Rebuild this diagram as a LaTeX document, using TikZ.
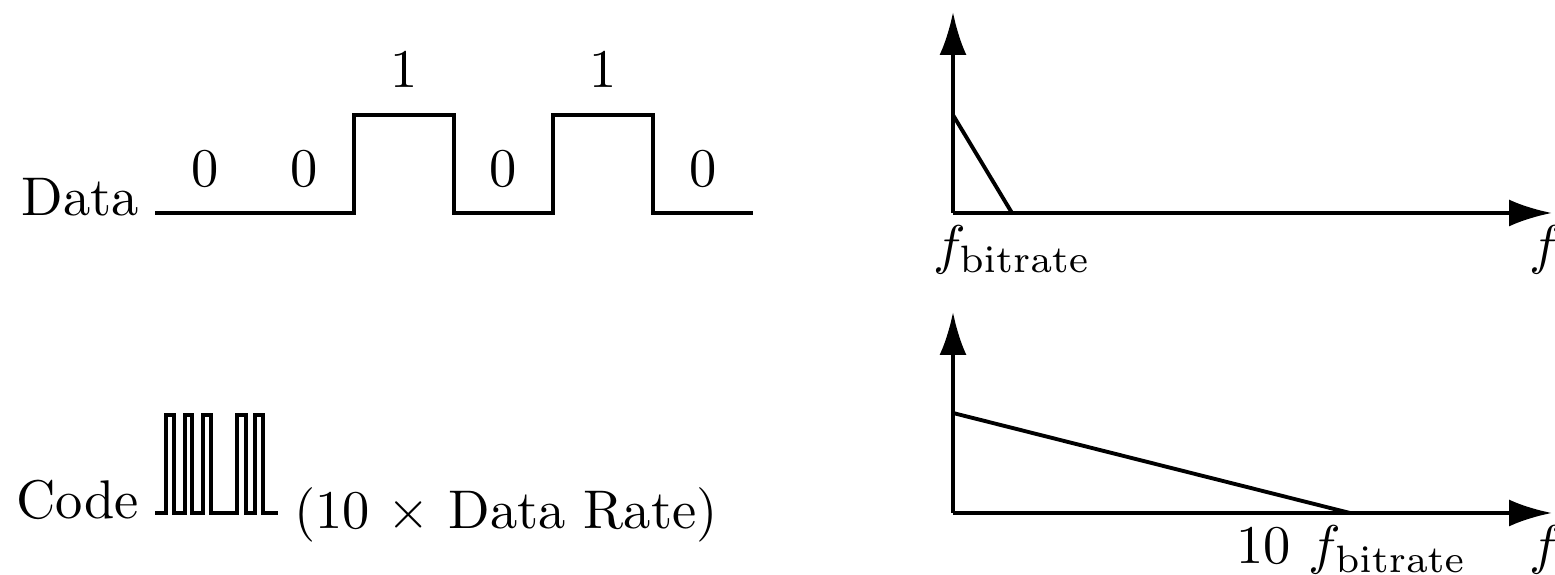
\RequirePackage{fix-cm}
\documentclass[tikz,border=0pt]{standalone}
\usepackage{amsmath,amssymb}
\usepackage{tikz}
\usetikzlibrary{arrows.meta}

\begin{document}
\begin{tikzpicture}[>={Latex[length=4.3mm,width=2.7mm]}, line width=1.1pt,
  every node/.style={font=\normalsize, scale=1.55}]
\useasboundingbox (0,0) rectangle (15.55,5.75);
% data signal
\draw (1.55,3.62) -- (3.54,3.62) -- (3.54,4.60) -- (4.54,4.60) -- (4.54,3.62)
  -- (5.53,3.62) -- (5.53,4.60) -- (6.53,4.60) -- (6.53,3.62) -- (7.53,3.62);
\node[anchor=base east] (datalbl) at (1.60,3.59) {Data};
\node[anchor=base] (bitA) at (2.05,3.88) {0};
\node[anchor=base] (bitB) at (3.04,3.88) {0};
\node[anchor=base] (bitC) at (4.04,4.87) {1};
\node[anchor=base] (bitD) at (5.03,3.88) {0};
\node[anchor=base] (bitE) at (6.03,4.87) {1};
\node[anchor=base] (bitF) at (7.03,3.88) {0};
% code signal
\draw (1.55,0.62) -- (1.657,0.62) -- (1.657,1.60) -- (1.74,1.60) -- (1.74,0.62)
  -- (1.85,0.62) -- (1.85,1.60) -- (1.923,1.60) -- (1.923,0.62)
  -- (2.033,0.62) -- (2.033,1.60) -- (2.107,1.60) -- (2.107,0.62)
  -- (2.367,0.62) -- (2.367,1.60) -- (2.46,1.60) -- (2.46,0.62)
  -- (2.55,0.62) -- (2.55,1.60) -- (2.633,1.60) -- (2.633,0.62) -- (2.783,0.62);
\node[anchor=base east] (codelbl) at (1.60,0.56) {Code};
\node[anchor=base west] (ratelbl) at (2.73,0.46) {(10 $\times$ Data Rate)};
% data spectrum
\coordinate (oA) at (9.53,3.62);
\draw[->] (oA) -- (9.53,5.63);
\draw[->] (oA) -- (15.52,3.62);
\draw (9.53,4.60) -- (10.12,3.62);
\node[anchor=base] (fbitA) at (10.12,3.11) {$f_{\mathrm{bitrate}}$};
\node[anchor=base west] (fA) at (15.08,3.11) {$f$};
% code spectrum
\coordinate (oB) at (9.53,0.62);
\draw[->] (oB) -- (9.53,2.63);
\draw[->] (oB) -- (15.52,0.62);
\draw (9.53,1.62) -- (13.50,0.62);
\node[anchor=base west] (fbitB) at (12.15,0.11) {10 $f_{\mathrm{bitrate}}$};
\node[anchor=base west] (fB) at (15.08,0.11) {$f$};
\end{tikzpicture}
\end{document}
